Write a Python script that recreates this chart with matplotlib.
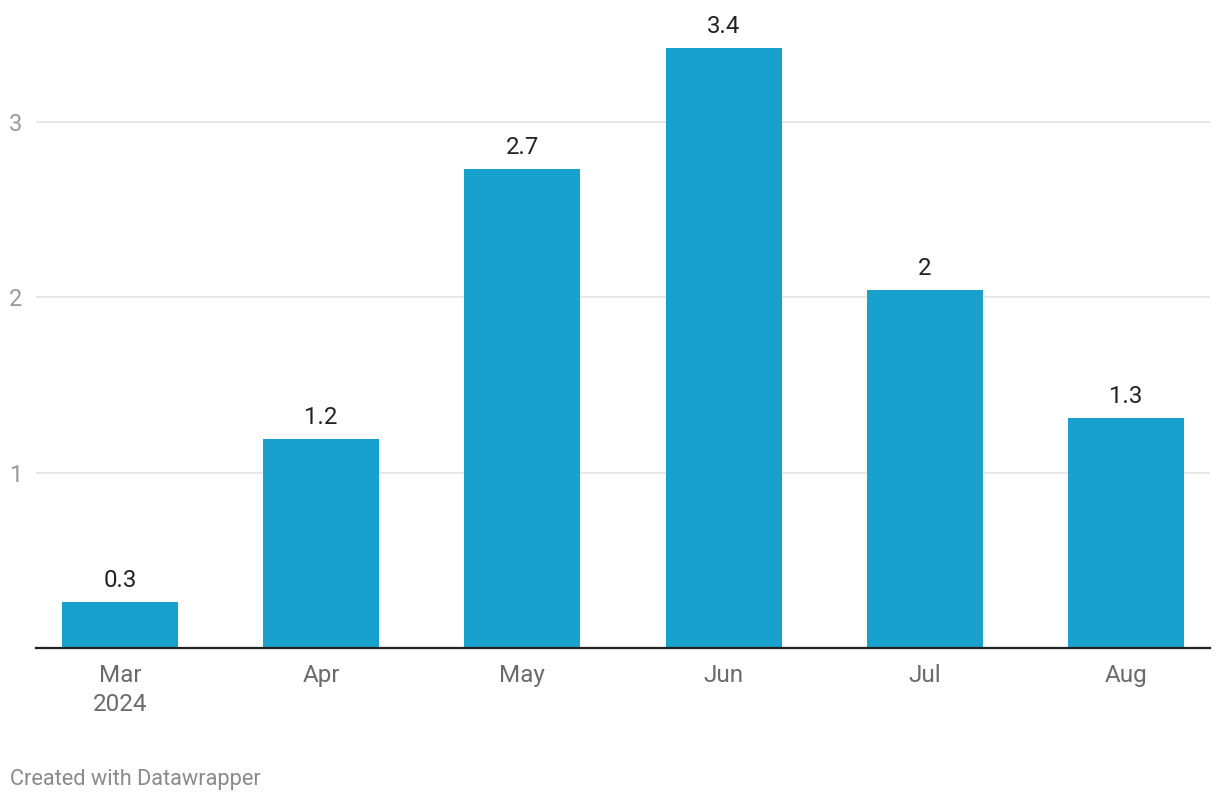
import matplotlib
matplotlib.use("Agg")
import matplotlib.pyplot as plt

months = ["Mar\n2024", "Apr", "May", "Jun", "Jul", "Aug"]
values = [0.26, 1.19, 2.73, 3.42, 2.04, 1.31]
labels = ["0.3", "1.2", "2.7", "3.4", "2", "1.3"]
yticks = [1, 2, 3]

plt.rcParams['font.family'] = ['Roboto', 'DejaVu Sans']

fig = plt.figure(figsize=(12.2, 8), dpi=100)
ax = fig.add_axes([36/1220, 152/800, 1174/1220, 618/800])

x = list(range(len(months)))
bars = ax.bar(x, values, width=0.577, color="#18a1cd", zorder=2)

ax.set_xlim(-0.417, len(months) - 1 + 0.417)
ax.set_ylim(0, 618/175.3)

ax.set_yticks(yticks)
ax.set_yticklabels([str(t) for t in yticks])
ax.grid(axis="y", color="#e3e3e3", linewidth=1.2, zorder=0)
ax.tick_params(axis="y", length=0, pad=10, labelsize=17, labelcolor="#9a9a9a")

ax.set_xticks(x)
ax.set_xticklabels(months, linespacing=1.34)
ax.tick_params(axis="x", length=0, pad=11.5, labelsize=17.5, labelcolor="#6b6b6b")

for s in ["top", "right", "left"]:
    ax.spines[s].set_visible(False)
ax.spines["bottom"].set_color("#222222")
ax.spines["bottom"].set_linewidth(1.6)
ax.spines["bottom"].set_zorder(3)

for xi, v, lab in zip(x, values, labels):
    ax.annotate(lab, (xi, v), xytext=(0, 11), textcoords="offset points",
                ha="center", va="baseline", fontsize=17.3, color="#222222")

fig.text(10/1220, 1 - 779/800, "Created with Datawrapper", ha="left", va="center",
         fontsize=15.7, color="#8a8a8a")

fig.savefig("out.png", dpi=100)
